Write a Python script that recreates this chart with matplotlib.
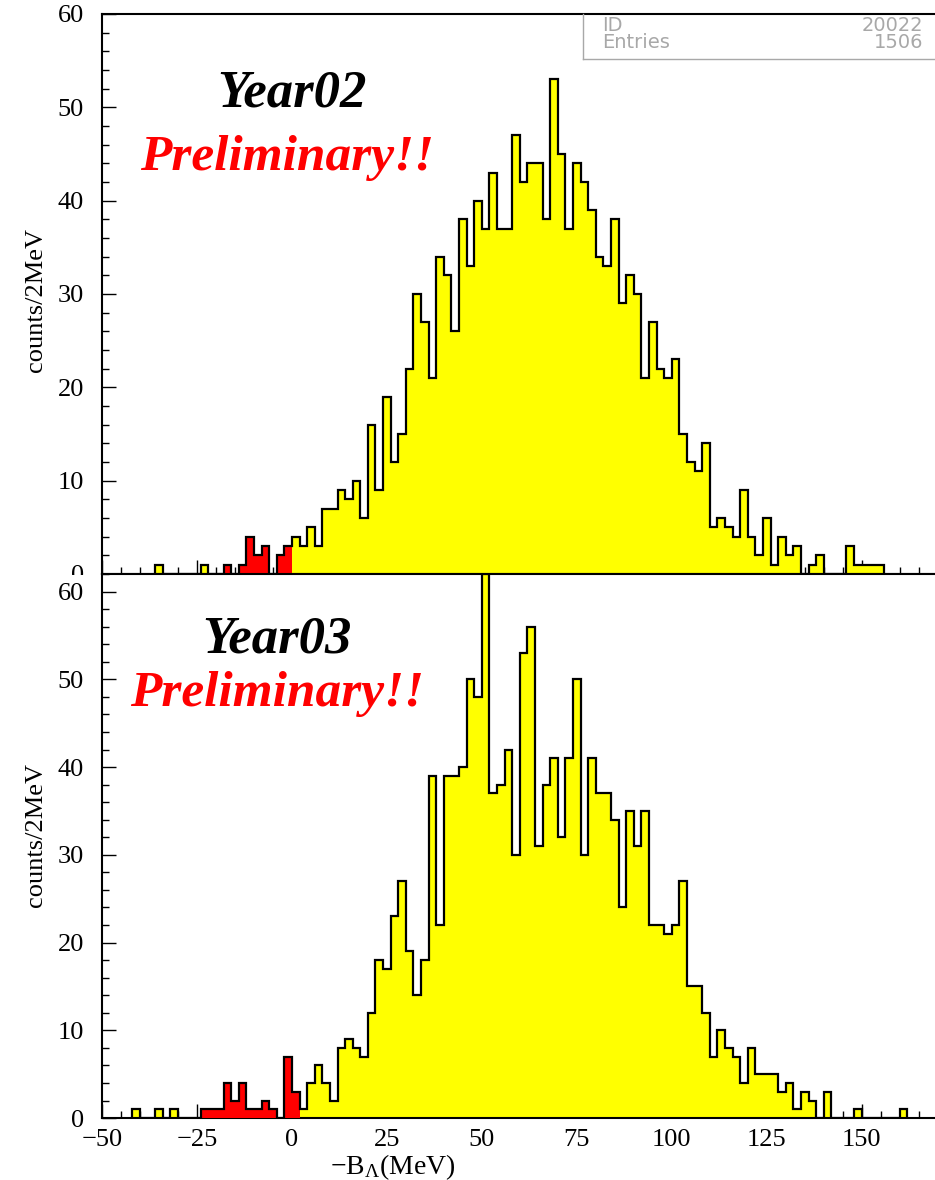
import numpy as np
import matplotlib.pyplot as plt
from matplotlib.ticker import MultipleLocator
from matplotlib.patches import Rectangle
from matplotlib.lines import Line2D

plt.rcParams['font.family'] = 'Liberation Serif'
plt.rcParams['mathtext.fontset'] = 'custom'
plt.rcParams['mathtext.rm'] = 'Liberation Serif'
plt.rcParams['mathtext.it'] = 'Liberation Serif:italic'

# -B_Lambda spectra, 2 MeV bins; each list starts at its *_start edge
bin_width = 2

year02_start = -36
year02_counts = [1, 0, 0, 0, 0, 0, 1, 0, 0, 1, 0, 1, 4, 2, 3, 0, 2, 3,
                 4, 3, 5, 3, 7, 7, 9, 8, 10, 6, 16, 9, 19, 12, 15,
                 22, 30, 27, 21, 34, 32, 26, 38, 33, 40, 37, 43, 37, 37, 47,
                 42, 44, 44, 38, 53, 45, 37, 44, 42, 39, 34, 33, 38, 29, 32,
                 30, 21, 27, 22, 21, 23, 15, 12, 11, 14, 5, 6, 5, 4, 9,
                 4, 2, 6, 1, 4, 2, 3, 0, 1, 2, 0, 0, 0, 3, 1, 1, 1, 1]
year02_red = (-18, 0)

year03_start = -42
year03_counts = [1, 0, 0, 1, 0, 1, 0, 0, 0, 1, 1, 1, 4, 2, 4, 1, 1, 2, 1, 0, 7, 3,
                 1, 4, 6, 4, 2, 8, 9, 8, 7, 12, 18, 17, 23, 27,
                 19, 14, 18, 39, 22, 39, 39, 40, 50, 48, 62, 37, 38, 42, 30,
                 53, 56, 31, 38, 41, 32, 41, 50, 30, 41, 37, 37, 34, 24, 35,
                 31, 35, 22, 22, 21, 22, 27, 15, 15, 12, 7, 10, 8, 7, 4,
                 8, 5, 5, 5, 3, 4, 1, 3, 2, 0, 3, 0, 0, 0, 1,
                 0, 0, 0, 0, 0, 1]
year03_red = (-24, 2)

panels = [
    dict(start=year02_start, counts=year02_counts, red=year02_red,
         year='Year02', ymax=60),
    dict(start=year03_start, counts=year03_counts, red=year03_red,
         year='Year03', ymax=62),
]

fig = plt.figure(figsize=(9.35, 11.8), dpi=100)
ax_top = fig.add_axes([0.1091, 0.5136, 0.8909, 0.4746], zorder=1)
ax_bot = fig.add_axes([0.1091, 0.0525, 0.8909, 0.4610], zorder=2)

# white strip so the lower panel hides the top panel's "0" label
fig.patches.append(Rectangle((0, 0), 0.1091, 0.5127, transform=fig.transFigure,
                             facecolor='white', edgecolor='none', zorder=1.5))

text_pos = [((0.2284, 0.8345), (0.2224, 0.7214)),
            ((0.2103, 0.8564), (0.2097, 0.7575))]

for ax, p, (ypos, ppos) in zip([ax_top, ax_bot], panels, text_pos):
    counts = np.array(p['counts'])
    edges = p['start'] + bin_width * np.arange(len(counts) + 1)
    ax.stairs(counts, edges, fill=True, color='#ffff00', zorder=2)
    i0 = (p['red'][0] - p['start']) // bin_width
    i1 = (p['red'][1] - p['start']) // bin_width
    ax.stairs(counts[i0:i1], edges[i0:i1 + 1], fill=True, color='#ff0000', zorder=3)
    ax.stairs(counts, edges, baseline=0, color='black', lw=1.6, zorder=4)

    ax.set_xlim(-50, 169.3)
    ax.set_ylim(0, p['ymax'])
    ax.xaxis.set_major_locator(MultipleLocator(25))
    ax.xaxis.set_minor_locator(MultipleLocator(5))
    ax.yaxis.set_major_locator(MultipleLocator(10))
    ax.yaxis.set_minor_locator(MultipleLocator(2))
    ax.tick_params(which='both', direction='in', top=False, right=False,
                   width=1, labelsize=19)
    ax.tick_params(which='major', length=10)
    ax.tick_params(which='minor', length=5)
    ax.tick_params(axis='y', pad=13)
    ax.tick_params(axis='x', pad=8)
    ax.spines['right'].set_visible(False)
    for s in ['left', 'bottom', 'top']:
        ax.spines[s].set_linewidth(1.5)

    ax.text(*ypos, p['year'], transform=ax.transAxes, ha='center', va='baseline',
            fontsize=38, fontweight='bold', fontstyle='italic', color='black')
    ax.text(*ppos, 'Preliminary!!', transform=ax.transAxes, ha='center',
            va='baseline', fontsize=37, fontweight='bold', fontstyle='italic',
            color='#ff0000')

ax_top.tick_params(labelbottom=False)

fig.text(0.0385, 0.746, 'counts/2MeV', rotation=90, ha='center', va='center',
         fontsize=19)
fig.text(0.0385, 0.292, 'counts/2MeV', rotation=90, ha='center', va='center',
         fontsize=19)
fig.text(0.42, 1 - 1167 / 1180, r'$\mathrm{-B_{\Lambda}(MeV)}$', ha='center',
         va='center', fontsize=20)

# statistics box in the upper right corner
box_color = '#a8a8a8'
fig.lines.append(Line2D([0.6235, 0.6235], [0.988, 0.9497], transform=fig.transFigure,
                        color=box_color, lw=1))
fig.lines.append(Line2D([0.6235, 1.0], [0.9497, 0.9497], transform=fig.transFigure,
                        color=box_color, lw=1))
stat_font = dict(family='DejaVu Sans', fontsize=14, color=box_color, va='center')
fig.text(0.6435, 0.9788, 'ID', ha='left', **stat_font)
fig.text(0.9872, 0.9788, '20022', ha='right', **stat_font)
fig.text(0.6435, 0.9644, 'Entries', ha='left', **stat_font)
fig.text(0.9872, 0.9644, '1506', ha='right', **stat_font)

fig.savefig('out.png', dpi=100)
